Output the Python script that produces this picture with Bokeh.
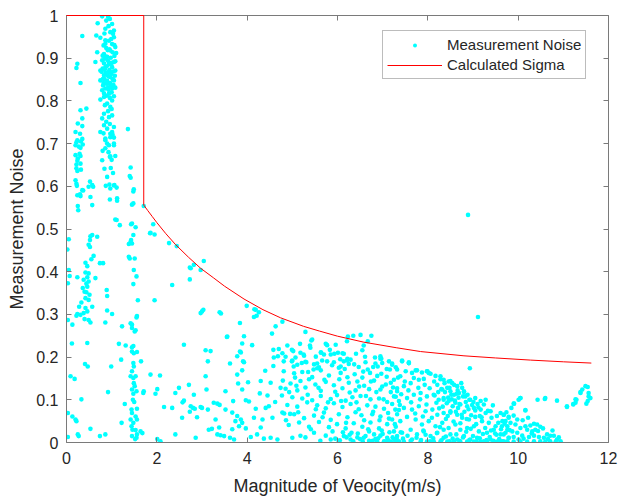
from bokeh.plotting import figure
from bokeh.models import (LinearAxis, FixedTicker, CustomJSTickFormatter, Range1d,
                          Legend, LegendItem)
from bokeh.embed import file_html
from bokeh.resources import INLINE

# ---------------- data ----------------
x_ticks = [0, 2, 4, 6, 8, 10, 12]
y_ticks = [0, 0.1, 0.2, 0.3, 0.4, 0.5, 0.6, 0.7, 0.8, 0.9, 1.0]

# Calculated Sigma curve
sigma_x = [0, 1.71, 1.71, 1.8, 1.9, 2.0, 2.2, 2.41, 2.7, 2.97, 3.25, 3.5, 3.93, 4.35, 4.74,
           5.25, 5.6, 6.0, 6.58, 7.3, 7.84, 8.8, 9.5, 10.27, 11.0, 11.62]
sigma_y = [1.0, 1.0, 0.556, 0.543, 0.529, 0.515, 0.489, 0.464, 0.434, 0.408, 0.386, 0.366,
           0.336, 0.311, 0.292, 0.272, 0.261, 0.249, 0.235, 0.222, 0.213, 0.203, 0.198,
           0.193, 0.189, 0.186]

# Measurement Noise points, grouped by region
noise_left = [
    (0.35, 0.952), (0.24, 0.887), (0.22, 0.877), (0.31, 0.842), (0.35, 0.759), (0.31, 0.778),
    (0.44, 0.782), (0.25, 0.747), (0.35, 0.741), (0.20, 0.727), (0.30, 0.723), (0.24, 0.708),
    (0.35, 0.711), (0.22, 0.703), (0.32, 0.705), (0.20, 0.696), (0.31, 0.690), (0.27, 0.693),
    (0.36, 0.698), (0.20, 0.673), (0.31, 0.671), (0.29, 0.676), (0.25, 0.665), (0.24, 0.660),
    (0.31, 0.653), (0.22, 0.651), (0.22, 0.642), (0.32, 0.639), (0.24, 0.636), (0.20, 0.614),
    (0.22, 0.606), (0.52, 0.611), (0.23, 0.601), (0.49, 0.599), (0.59, 0.599), (0.57, 0.603),
    (0.24, 0.579), (0.30, 0.581), (0.35, 0.591), (0.53, 0.575), (0.31, 0.577), (0.37, 0.590),
    (0.25, 0.554), (0.26, 0.544), (0.57, 0.556), (0.57, 0.486), (0.52, 0.474), (0.68, 0.482),
    (0.49, 0.463), (0.05, 0.476), (0.53, 0.483), (0.52, 0.458), (0.60, 0.437), (0.55, 0.429),
    (0.42, 0.421), (0.46, 0.413), (0.42, 0.398), (0.49, 0.396), (0.46, 0.387), (0.38, 0.381),
    (0.49, 0.377), (0.46, 0.365), (0.64, 0.385), (0.07, 0.390), (0.03, 0.373), (0.24, 0.387),
    (0.40, 0.353), (0.42, 0.338), (0.49, 0.334), (0.57, 0.318), (0.42, 0.315), (0.46, 0.307),
    (0.38, 0.303), (0.24, 0.301), (0.31, 0.299), (0.22, 0.297), (0.40, 0.289), (0.49, 0.287),
    (0.53, 0.281), (0.03, 0.287), (0.13, 0.276), (0.46, 0.233), (0.47, 0.178), (0.18, 0.149),
    (0.03, 0.069), (0.13, 0.061), (0.20, 0.054), (0.22, 0.050), (0.03, 0.013), (0.25, 0.019),
    (0.27, 0.015), (0.53, 0.032), (0.66, 0.953), (0.64, 0.891), (0.68, 0.914), (0.69, 0.982),
    (0.44, 0.372), (0.36, 0.362), (0.44, 0.352), (0.33, 0.328), (0.51, 0.346), (0.28, 0.318),
    (0.12, 0.232), (0.09, 0.155), (0.33, 0.101), (0.41, 0.184), (0.05, 0.404), (0.02, 0.452),
]

noise_column = [
    (0.79, 0.998), (0.92, 0.997), (0.96, 0.992), (1.01, 0.980), (0.86, 0.969), (1.05, 0.965),
    (0.97, 0.961), (0.75, 0.948), (1.05, 0.949), (0.94, 0.941), (0.86, 0.934), (1.01, 0.933),
    (1.08, 0.926), (0.83, 0.910), (0.97, 0.918), (0.90, 0.903), (0.79, 0.895), (1.05, 0.891),
    (0.86, 0.879), (1.01, 0.879), (0.75, 0.871), (0.94, 0.868), (1.08, 0.871), (0.83, 0.860),
    (0.97, 0.856), (0.75, 0.848), (1.05, 0.848), (0.90, 0.840), (0.79, 0.825), (1.01, 0.829),
    (0.94, 0.817), (0.83, 0.809), (1.01, 0.801), (0.75, 0.803), (0.90, 0.794), (0.97, 0.786),
    (0.83, 0.770), (0.94, 0.762), (0.79, 0.759), (1.01, 0.766), (0.83, 0.743), (0.90, 0.735),
    (1.05, 0.739), (0.75, 0.727), (0.97, 0.723), (0.86, 0.712), (1.05, 0.714), (0.90, 0.700),
    (1.05, 0.696), (0.96, 0.669), (0.79, 0.661), (1.06, 0.603), (0.97, 0.595), (0.96, 0.569),
    (1.12, 0.572),
    (0.82, 0.930), (0.88, 0.924), (0.95, 0.921), (1.02, 0.914), (0.80, 0.906), (0.85, 0.899),
    (0.92, 0.894), (0.98, 0.901), (1.06, 0.905), (0.83, 0.888), (0.89, 0.881), (0.96, 0.886),
    (1.03, 0.869), (0.80, 0.876), (0.87, 0.866), (0.93, 0.857), (0.99, 0.863), (1.07, 0.859),
    (0.84, 0.851), (0.90, 0.847), (0.97, 0.842), (1.04, 0.837), (0.81, 0.836), (0.86, 0.829),
    (0.93, 0.826), (1.00, 0.820), (1.08, 0.831), (0.83, 0.818), (0.89, 0.812), (0.96, 0.807),
    (1.05, 0.811), (0.78, 0.868), (0.81, 0.852), (0.88, 0.841), (0.95, 0.872), (1.00, 0.889),
    (1.08, 0.893), (0.91, 0.919), (0.86, 0.942), (0.99, 0.945), (1.06, 0.931), (0.84, 0.958),
    (0.93, 0.975), (0.88, 0.988), (1.03, 0.957), (0.90, 0.861), (0.97, 0.834), (0.85, 0.874),
    (1.02, 0.851), (0.92, 0.831), (0.87, 0.904), (0.94, 0.887), (1.10, 0.912), (0.82, 0.842),
    (0.85, 0.790), (0.92, 0.776), (1.00, 0.781), (0.88, 0.751), (0.96, 0.746), (0.82, 0.724),
    (1.02, 0.721), (0.86, 0.689), (0.93, 0.680), (1.00, 0.662), (0.84, 0.641), (0.90, 0.622),
    (1.03, 0.631), (0.87, 0.601), (0.95, 0.604), (0.98, 0.643), (0.80, 0.683), (1.08, 0.671),
    (0.86, 0.708), (1.01, 0.727), (0.97, 0.715), (1.05, 0.700), (0.94, 0.696), (0.97, 0.670),
    (1.05, 0.602), (1.11, 0.597), (1.12, 0.566), (1.11, 0.521), (1.18, 0.509), (1.08, 0.522),
    (0.74, 0.420), (0.81, 0.420), (0.89, 0.357), (0.90, 0.343), (0.90, 0.309), (1.01, 0.301),
    (0.86, 0.281), (1.23, 0.272), (1.16, 0.231), (1.21, 0.194), (0.99, 0.178), (0.92, 0.118),
    (1.22, 0.046), (0.74, 0.015), (0.86, 0.019), (1.29, 0.090),
]

noise_strip = [
    (1.36, 0.734), (1.42, 0.644), (1.40, 0.624), (1.49, 0.593), (1.42, 0.620), (1.48, 0.588),
    (1.48, 0.560), (1.45, 0.557), (1.45, 0.513), (1.53, 0.504), (1.48, 0.486), (1.42, 0.470),
    (1.45, 0.466), (1.43, 0.511), (1.43, 0.474), (1.38, 0.465), (1.38, 0.435), (1.40, 0.431),
    (1.51, 0.431), (1.49, 0.404), (1.55, 0.389), (1.48, 0.371), (1.58, 0.333), (1.55, 0.293),
    (1.45, 0.276), (1.51, 0.260), (1.42, 0.279), (1.53, 0.263), (1.56, 0.296), (1.45, 0.268),
    (1.45, 0.213), (1.49, 0.209), (1.56, 0.212), (1.31, 0.227), (1.45, 0.223), (1.48, 0.226),
    (1.48, 0.186), (1.49, 0.178), (1.45, 0.167), (1.65, 0.190), (1.42, 0.155), (1.48, 0.151),
    (1.53, 0.155), (1.49, 0.139), (1.51, 0.132), (1.45, 0.124), (1.48, 0.114), (1.55, 0.120),
    (1.71, 0.120), (1.70, 0.116), (1.44, 0.077), (1.56, 0.079), (1.45, 0.069), (1.53, 0.061),
    (1.42, 0.054), (1.56, 0.054), (1.48, 0.046), (1.44, 0.038), (1.53, 0.029), (1.56, 0.019),
    (1.45, 0.015), (1.55, 0.011), (1.64, 0.026), (1.68, 0.022), (1.71, 0.554), (1.50, 0.095),
    (1.47, 0.100), (1.52, 0.008), (1.46, 0.030),
]

noise_mid = [
    (1.86, 0.491), (1.95, 0.487), (1.92, 0.511), (1.85, 0.490), (2.27, 0.467), (2.44, 0.460),
    (2.75, 0.408), (2.82, 0.416), (3.04, 0.425), (2.73, 0.410), (2.97, 0.404), (2.73, 0.382),
    (2.34, 0.369), (1.95, 0.333), (3.00, 0.307), (2.97, 0.303), (3.39, 0.305), (3.03, 0.311),
    (3.42, 0.302), (3.99, 0.320), (4.19, 0.311), (4.15, 0.294), (3.84, 0.280), (4.26, 0.305),
    (3.55, 0.247), (3.93, 0.249), (3.89, 0.232), (4.11, 0.228), (2.60, 0.229), (3.08, 0.216),
    (3.19, 0.214), (3.62, 0.185), (3.86, 0.211), (3.91, 0.190), (3.13, 0.190), (3.78, 0.202),
    (3.89, 0.169), (3.78, 0.159), (3.08, 0.155), (3.10, 0.124), (3.52, 0.120), (3.80, 0.138),
    (4.02, 0.141), (4.30, 0.144), (3.89, 0.124), (4.28, 0.115), (4.52, 0.140), (4.74, 0.128),
    (4.58, 0.179), (4.68, 0.202), (4.58, 0.217), (4.70, 0.219), (4.59, 0.199), (4.78, 0.283),
    (4.63, 0.272), (4.55, 0.255), (1.86, 0.159), (2.07, 0.157), (2.01, 0.125), (1.97, 0.114),
    (2.41, 0.116), (2.49, 0.128), (2.71, 0.135), (2.82, 0.112), (2.60, 0.098), (2.57, 0.094),
    (2.75, 0.085), (2.80, 0.081), (2.84, 0.079), (3.00, 0.081), (2.16, 0.083), (2.34, 0.081),
    (2.56, 0.058), (2.73, 0.072), (2.89, 0.059), (3.13, 0.077), (3.26, 0.093), (3.34, 0.091),
    (3.39, 0.088), (2.01, 0.008), (2.08, 0.003), (2.41, 0.019), (2.86, 0.011), (3.15, 0.030),
    (3.22, 0.032), (3.34, 0.019), (2.97, 0.083), (3.69, 0.097), (3.97, 0.099), (4.04, 0.096),
    (4.19, 0.079), (4.41, 0.081), (4.48, 0.085), (3.52, 0.077), (3.67, 0.070), (3.78, 0.062),
    (3.86, 0.054), (3.74, 0.050), (3.89, 0.046), (3.82, 0.038), (3.67, 0.031), (3.97, 0.033),
    (4.15, 0.058), (4.34, 0.054), (4.56, 0.058), (4.78, 0.070), (3.30, 0.054), (3.38, 0.035),
    (3.62, 0.011), (3.71, 0.007), (4.08, 0.013), (4.22, 0.019), (4.37, 0.009), (4.52, 0.011),
    (4.67, 0.007), (3.41, 0.017), (3.49, 0.015), (3.56, 0.248), (3.84, 0.213), (3.93, 0.188),
    (4.16, 0.312), (4.21, 0.297), (4.40, 0.168), (4.45, 0.110), (4.62, 0.095), (4.30, 0.035),
]

noise_center = [
    (5.29, 0.259), (5.42, 0.239), (5.39, 0.227), (5.77, 0.228), (6.23, 0.248), (6.35, 0.250),
    (6.51, 0.252), (6.75, 0.250), (6.21, 0.237), (6.67, 0.237), (6.58, 0.227), (6.55, 0.216),
    (4.89, 0.227), (4.99, 0.217), (5.17, 0.231), (5.18, 0.210), (5.25, 0.206), (4.81, 0.190),
    (4.99, 0.190), (5.11, 0.182), (5.31, 0.188), (5.55, 0.185), (5.64, 0.210), (5.70, 0.206),
    (5.85, 0.206), (5.93, 0.208), (6.01, 0.210), (6.14, 0.208), (5.66, 0.192), (5.77, 0.190),
    (5.92, 0.188), (6.14, 0.190), (6.21, 0.192), (6.29, 0.194), (6.25, 0.184), (6.62, 0.188),
    (6.84, 0.185), (6.97, 0.196), (6.79, 0.177), (6.89, 0.178), (5.55, 0.174), (6.07, 0.178),
    (5.03, 0.178),
    (5.44, 0.241), (5.40, 0.222), (5.74, 0.231), (5.96, 0.229), (4.78, 0.209), (4.85, 0.201),
    (5.02, 0.214), (5.07, 0.199), (5.26, 0.203), (5.63, 0.211), (6.11, 0.209), (6.22, 0.196),
    (6.95, 0.202), (6.99, 0.186), (7.14, 0.190), (5.00, 0.192), (5.29, 0.189), (5.48, 0.183),
    (5.59, 0.176), (5.88, 0.181), (6.03, 0.175), (6.47, 0.177), (6.67, 0.171), (7.09, 0.172),
    (7.29, 0.176), (4.81, 0.167), (5.04, 0.162), (5.22, 0.165), (5.44, 0.153), (5.63, 0.169),
    (5.81, 0.157), (6.07, 0.163), (6.22, 0.153), (6.38, 0.160), (6.55, 0.152), (6.72, 0.163),
    (6.88, 0.156), (7.09, 0.154), (4.79, 0.145), (4.96, 0.138), (5.18, 0.144), (5.37, 0.148),
    (5.51, 0.136), (5.74, 0.142), (5.92, 0.134), (6.25, 0.140), (6.44, 0.143), (6.59, 0.133),
    (6.81, 0.145), (6.99, 0.131), (7.18, 0.140), (7.32, 0.127), (4.85, 0.126), (5.11, 0.122),
    (5.29, 0.129), (5.63, 0.121), (6.11, 0.127), (6.40, 0.122), (6.70, 0.125), (6.95, 0.124),
    (7.18, 0.118), (4.77, 0.110), (5.00, 0.106), (5.22, 0.103), (5.44, 0.099), (5.63, 0.109),
    (5.85, 0.102), (5.99, 0.111), (6.18, 0.098), (6.33, 0.106), (6.51, 0.109), (6.73, 0.101),
    (6.92, 0.103), (7.10, 0.095), (7.29, 0.107), (4.89, 0.088), (5.11, 0.084), (5.33, 0.094),
    (5.55, 0.087), (5.74, 0.080), (5.92, 0.092), (6.11, 0.083), (6.29, 0.090), (6.47, 0.078),
    (6.66, 0.087), (6.84, 0.084), (7.03, 0.079), (7.21, 0.090), (7.36, 0.076), (4.82, 0.068),
    (5.04, 0.066), (5.26, 0.057), (5.48, 0.063), (5.70, 0.070), (5.85, 0.053), (6.03, 0.066),
    (6.22, 0.059), (6.40, 0.071), (6.59, 0.052), (6.77, 0.066), (6.95, 0.061), (7.14, 0.056),
    (7.32, 0.066), (4.92, 0.041), (5.15, 0.047), (5.37, 0.037), (5.59, 0.048), (5.81, 0.036),
    (5.99, 0.043), (6.18, 0.033), (6.36, 0.045), (6.55, 0.037), (6.73, 0.047), (6.92, 0.033),
    (7.10, 0.043), (7.29, 0.037), (5.00, 0.011), (5.18, 0.016), (5.48, 0.023), (5.85, 0.007),
    (6.03, 0.003), (6.14, 0.015), (6.29, 0.007), (6.44, 0.012), (6.70, 0.004), (6.84, 0.008),
    (6.95, 0.016), (7.03, 0.003), (7.10, 0.011), (7.18, 0.002), (7.25, 0.008), (7.32, 0.015),
    (7.36, 0.003), (6.88, 0.002), (7.06, 0.002), (6.05, 0.005), (6.20, 0.012), (6.35, 0.003),
    (6.50, 0.008), (6.62, 0.015), (6.78, 0.004), (6.90, 0.010), (7.00, 0.020), (7.12, 0.006),
    (7.22, 0.012), (6.45, 0.021), (6.70, 0.026), (6.12, 0.024), (6.56, 0.002), (6.98, 0.028),
    (4.86, 0.052), (4.93, 0.118), (5.06, 0.152), (5.13, 0.071), (5.21, 0.186), (5.34, 0.112),
    (5.41, 0.031), (5.47, 0.171), (5.52, 0.078), (5.58, 0.128), (5.67, 0.059), (5.71, 0.147),
    (5.79, 0.094), (5.83, 0.217), (5.89, 0.026), (5.95, 0.119), (6.04, 0.148), (6.08, 0.097),
    (6.16, 0.172), (6.19, 0.046), (6.27, 0.117), (6.31, 0.023), (6.37, 0.183), (6.42, 0.094),
    (6.48, 0.131), (6.53, 0.064), (6.57, 0.166), (6.63, 0.109), (6.68, 0.031), (6.74, 0.143),
    (6.79, 0.072), (6.83, 0.199), (6.86, 0.118), (6.93, 0.052), (6.97, 0.161), (7.02, 0.101),
    (7.07, 0.136), (7.12, 0.069), (7.16, 0.171), (7.23, 0.129), (7.27, 0.043), (7.34, 0.152),
    (7.38, 0.088), (7.41, 0.113), (6.41, 0.208), (6.61, 0.201), (6.06, 0.195), (5.52, 0.201),
    (5.35, 0.165), (5.09, 0.133), (4.95, 0.067), (5.29, 0.012), (5.62, 0.004), (5.74, 0.016),
    (5.95, 0.009), (6.27, 0.018), (6.58, 0.011), (6.81, 0.019), (7.15, 0.024), (7.31, 0.009),
]

noise_peak = [
    (7.21, 0.182), (7.32, 0.171), (7.43, 0.190), (7.58, 0.186), (7.25, 0.147), (7.39, 0.155),
    (7.51, 0.167), (7.65, 0.163), (7.76, 0.169), (7.87, 0.164), (7.98, 0.167), (8.06, 0.161),
    (7.62, 0.139), (7.47, 0.132), (7.32, 0.120), (7.80, 0.147), (7.91, 0.149), (8.28, 0.155),
    (8.35, 0.147), (8.46, 0.143), (8.54, 0.139), (8.65, 0.132), (8.76, 0.128), (8.21, 0.135),
    (8.32, 0.124), (8.43, 0.128), (8.50, 0.120), (8.58, 0.112), (8.69, 0.116), (8.80, 0.120),
    (8.83, 0.108), (8.94, 0.100), (9.05, 0.104), (9.17, 0.097), (9.28, 0.100), (7.25, 0.108),
    (7.36, 0.097), (7.54, 0.104), (7.69, 0.112), (7.84, 0.116), (7.98, 0.108), (8.13, 0.112),
    (8.24, 0.100), (8.35, 0.104), (8.46, 0.097), (8.61, 0.093), (8.72, 0.089), (8.87, 0.085),
    (9.02, 0.081), (9.17, 0.077), (9.28, 0.069), (9.39, 0.073), (9.53, 0.062), (9.68, 0.065),
    (9.79, 0.058), (7.28, 0.077), (7.47, 0.081), (7.65, 0.077), (7.80, 0.085), (7.95, 0.073),
    (8.10, 0.077), (8.21, 0.065), (8.35, 0.069), (8.50, 0.073), (8.65, 0.065), (8.76, 0.058),
    (8.91, 0.054), (9.05, 0.060), (9.20, 0.050), (9.35, 0.046), (9.50, 0.038), (9.65, 0.050),
    (9.76, 0.038), (7.21, 0.054), (7.39, 0.050), (7.54, 0.060), (7.73, 0.054), (7.87, 0.042),
    (8.02, 0.050), (8.17, 0.038), (8.32, 0.046), (8.46, 0.034), (8.61, 0.042), (8.72, 0.030),
    (8.87, 0.034), (9.02, 0.038), (9.13, 0.026), (9.31, 0.023), (9.46, 0.030), (9.61, 0.019),
    (9.72, 0.023), (7.25, 0.026), (7.43, 0.023), (7.62, 0.030), (7.76, 0.019), (7.91, 0.026),
    (8.06, 0.015), (8.21, 0.023), (8.35, 0.011), (8.50, 0.019), (8.65, 0.007), (8.80, 0.015),
    (8.94, 0.007), (9.09, 0.011), (9.24, 0.003), (9.39, 0.007), (9.53, 0.002), (9.68, 0.003),
    (9.79, 0.011), (7.28, 0.003), (7.47, 0.002), (7.65, 0.007), (7.84, 0.002), (7.98, 0.002),
    (8.13, 0.003), (8.28, 0.002), (8.43, 0.002), (8.58, 0.002), (8.72, 0.002), (8.87, 0.002),
    (9.02, 0.002), (9.17, 0.002), (9.31, 0.002), (9.46, 0.002), (9.61, 0.002), (9.76, 0.002),
    (6.95, 0.196), (7.21, 0.185), (7.43, 0.192), (7.58, 0.188), (7.73, 0.169), (7.99, 0.167),
    (8.02, 0.163), (8.17, 0.156), (8.28, 0.148), (8.50, 0.144), (7.58, 0.186),
    (8.38, 0.118), (8.45, 0.105), (8.52, 0.112), (8.60, 0.098), (8.66, 0.122), (8.70, 0.090),
    (8.78, 0.108), (8.84, 0.095), (8.90, 0.078), (8.55, 0.085), (8.42, 0.092), (8.62, 0.072),
    (8.75, 0.065), (8.98, 0.088), (9.05, 0.075), (8.48, 0.128), (8.58, 0.135), (8.35, 0.100),
    (8.50, 0.070), (8.80, 0.118), (8.68, 0.105), (8.92, 0.100), (9.10, 0.090), (9.15, 0.062),
    (8.72, 0.045), (8.86, 0.055), (8.40, 0.055), (8.25, 0.080), (8.30, 0.125), (8.15, 0.110),
    (7.45, 0.009), (7.55, 0.016), (7.62, 0.004), (7.75, 0.011), (7.85, 0.006), (7.95, 0.018),
    (8.05, 0.003), (8.12, 0.010), (8.20, 0.022), (8.30, 0.005), (8.40, 0.014), (8.48, 0.003),
    (8.55, 0.009), (8.63, 0.019), (8.70, 0.004), (8.78, 0.012), (8.85, 0.025), (8.92, 0.006),
    (9.00, 0.015), (9.08, 0.003), (9.15, 0.010), (9.22, 0.020), (9.30, 0.006), (9.37, 0.013),
    (9.45, 0.004), (9.52, 0.018), (9.58, 0.008), (7.40, 0.024), (7.90, 0.028), (8.35, 0.030),
    (8.95, 0.032), (9.40, 0.028),
    (7.49, 0.143), (7.57, 0.122), (7.63, 0.094), (7.69, 0.151), (7.72, 0.068), (7.79, 0.128),
    (7.83, 0.101), (7.89, 0.061), (7.93, 0.135), (7.97, 0.089), (8.04, 0.127), (8.09, 0.058),
    (8.14, 0.143), (8.19, 0.093), (8.23, 0.118), (8.27, 0.036), (8.33, 0.084), (8.37, 0.139),
    (8.44, 0.062), (8.53, 0.101), (8.57, 0.049), (8.64, 0.114), (8.67, 0.081), (8.74, 0.139),
    (8.81, 0.072), (8.88, 0.112), (8.96, 0.064), (9.01, 0.095), (9.07, 0.043), (9.12, 0.082),
    (9.19, 0.059), (9.24, 0.089), (9.27, 0.034), (9.33, 0.074), (9.41, 0.058), (9.44, 0.087),
    (9.49, 0.021), (9.56, 0.046), (9.62, 0.031), (9.70, 0.044), (9.74, 0.071), (9.81, 0.029),
    (9.85, 0.081),
]

noise_tail = [
    (11.49, 0.132), (11.54, 0.130), (11.42, 0.124), (11.38, 0.118), (11.56, 0.116),
    (11.60, 0.104), (11.54, 0.097), (11.51, 0.091), (11.29, 0.100), (11.27, 0.093),
    (11.22, 0.089), (11.08, 0.083), (10.86, 0.098), (10.60, 0.104), (10.43, 0.100),
    (10.16, 0.076), (10.05, 0.104), (10.01, 0.100), (9.90, 0.091), (9.61, 0.069),
    (9.68, 0.065), (9.79, 0.060), (9.90, 0.063), (9.98, 0.054), (9.72, 0.050), (9.83, 0.046),
    (9.64, 0.038), (9.94, 0.042), (10.05, 0.034), (10.16, 0.038), (10.27, 0.040),
    (10.35, 0.044), (10.42, 0.042), (10.49, 0.037), (10.20, 0.030), (10.31, 0.026),
    (10.38, 0.030), (9.76, 0.030), (9.87, 0.026), (9.98, 0.023), (10.09, 0.016),
    (9.68, 0.019), (9.79, 0.011), (9.90, 0.013), (10.01, 0.007), (10.12, 0.009),
    (10.24, 0.013), (10.35, 0.016), (10.46, 0.013), (10.57, 0.011), (10.64, 0.019),
    (10.71, 0.016), (10.79, 0.016), (10.86, 0.007), (10.94, 0.003), (10.71, 0.003),
    (10.49, 0.003), (10.35, 0.003), (10.20, 0.002), (10.05, 0.002), (9.90, 0.002),
    (9.76, 0.002), (9.64, 0.003), (10.60, 0.002), (10.83, 0.002), (9.91, 0.091),
    (10.05, 0.104), (10.16, 0.075), (10.59, 0.102), (11.08, 0.085), (11.22, 0.090),
    (11.27, 0.101), (11.38, 0.116), (11.56, 0.108), (10.10, 0.052), (10.22, 0.058),
    (10.30, 0.021), (10.44, 0.027), (10.55, 0.033), (10.66, 0.008), (10.76, 0.028),
    (10.90, 0.012),
]

noise_outliers = [(8.89, 0.533), (9.11, 0.294), (8.93, 0.174)]

noise_all = (noise_left + noise_column + noise_strip + noise_mid + noise_center
             + noise_peak + noise_tail + noise_outliers)
noise_x = [pt[0] for pt in noise_all]
noise_y = [pt[1] for pt in noise_all]

# ---------------- figure ----------------
AX = "#7a7a7a"
TXT = "#262626"
FONT = "Liberation Sans"

p = figure(width=621, height=498, output_backend="svg", toolbar_location=None,
           x_range=Range1d(0, 12), y_range=Range1d(0, 1),
           min_border_left=66, min_border_right=13, min_border_top=15, min_border_bottom=55)
p.grid.visible = False
p.outline_line_color = None
p.background_fill_color = "white"
p.border_fill_color = "white"

r_noise = p.scatter(noise_x, noise_y, size=4.6, fill_color="#00FFFF", line_color=None)
r_sigma = p.line(sigma_x, sigma_y, line_color="#FF0000", line_width=1)
r_sigma.level = "overlay"

def style_axis(ax, ticks, show_labels):
    ax.ticker = FixedTicker(ticks=ticks)
    ax.major_tick_in = 5
    ax.major_tick_out = 0
    ax.minor_tick_line_color = None
    ax.axis_line_color = AX
    ax.major_tick_line_color = AX
    ax.major_label_text_font = FONT
    if show_labels:
        ax.major_label_text_color = TXT
        ax.major_label_text_font_size = "16px"
        ax.major_label_standoff = 9
    else:
        ax.major_label_text_color = None
        ax.major_label_text_font_size = "1px"
        ax.major_label_standoff = 0

xa = p.xaxis[0]
ya = p.yaxis[0]
style_axis(xa, x_ticks, True)
style_axis(ya, y_ticks, True)
ya.major_label_standoff = 8
ya.formatter = CustomJSTickFormatter(code="return tick.toFixed(1).replace(/\\.0$/, '');")
xa.axis_label = "Magnitude of Veocity(m/s)"
ya.axis_label = "Measurement Noise"
for ax in (xa, ya):
    ax.axis_label_text_font = FONT
    ax.axis_label_text_font_size = "18px"
    ax.axis_label_text_font_style = "normal"
    ax.axis_label_text_color = TXT
xa.axis_label_standoff = 9
ya.axis_label_standoff = 6

top = LinearAxis()
right = LinearAxis()
style_axis(top, x_ticks, False)
style_axis(right, y_ticks, False)
p.add_layout(top, "above")
p.add_layout(right, "right")

legend = Legend(items=[LegendItem(label="Measurement Noise", renderers=[r_noise]),
                       LegendItem(label="Calculated Sigma", renderers=[r_sigma])],
                location=(316, 363))
legend.label_text_font = FONT
legend.label_text_font_size = "15px"
legend.label_text_color = TXT
legend.border_line_color = AX
legend.border_line_width = 1
legend.background_fill_color = "white"
legend.background_fill_alpha = 1
legend.padding = 4
legend.spacing = 1
legend.margin = 0
legend.label_height = 19
legend.glyph_height = 10
legend.glyph_width = 55
legend.label_standoff = 5
p.add_layout(legend)

open("out.html", "w").write(file_html(p, INLINE))
